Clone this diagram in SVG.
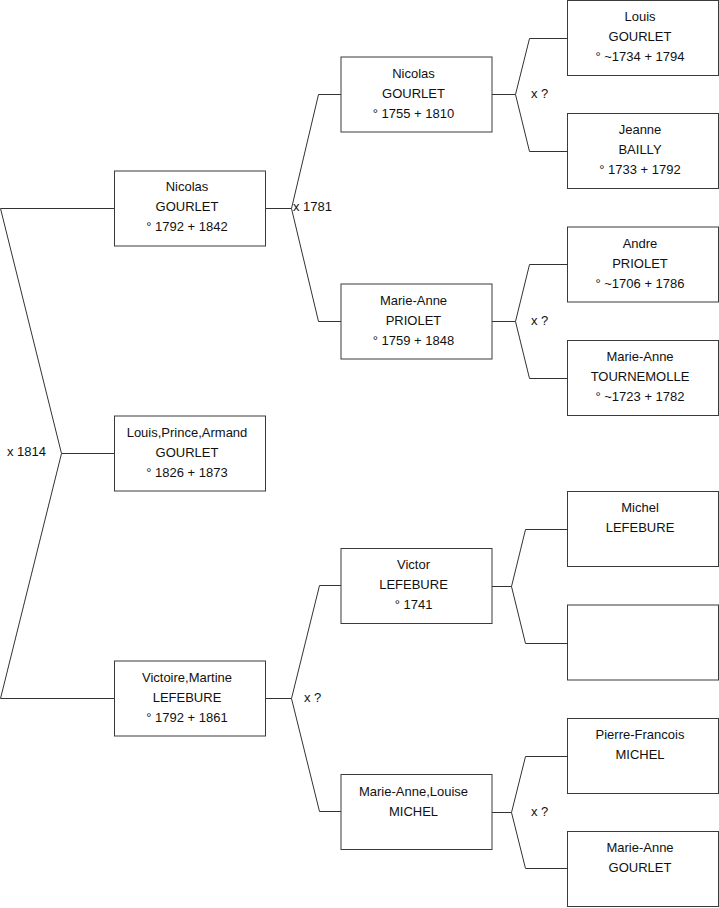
<svg xmlns="http://www.w3.org/2000/svg" width="719" height="908" viewBox="0 0 719 908">
<style>
.box{fill:#fff;stroke:#3a3a3a;stroke-width:1}
.t{font-family:"Liberation Sans",Arial,sans-serif;font-size:13px;fill:#111;text-anchor:middle}
.l{font-family:"Liberation Sans",Arial,sans-serif;font-size:13px;fill:#111}
.c{fill:none;stroke:#333;stroke-width:1}
</style>
<rect width="719" height="908" fill="#fff"/>
<g id="connectors">
<polyline class="c" points="114,208.5 0.5,208.5 61.5,453.5 0.5,698.5 114,698.5"/>
<line class="c" x1="61.5" y1="453.5" x2="114" y2="453.5"/>
<polyline class="c" points="341,94.5 318.5,94.5 291.5,208.5 318.5,321.5 341,321.5"/>
<line class="c" x1="265" y1="208.5" x2="291.5" y2="208.5"/>
<polyline class="c" points="341,585.5 319.5,585.5 291.5,698.5 319.5,811.5 341,811.5"/>
<line class="c" x1="265" y1="698.5" x2="291.5" y2="698.5"/>
<polyline class="c" points="567,38.5 529.5,38.5 515.5,94.5 529.5,151.5 567,151.5"/>
<line class="c" x1="492" y1="94.5" x2="515.5" y2="94.5"/>
<polyline class="c" points="567,264.5 529.5,264.5 515.5,321.5 529.5,378.5 567,378.5"/>
<line class="c" x1="492" y1="321.5" x2="515.5" y2="321.5"/>
<polyline class="c" points="567,529.5 525.5,529.5 511.5,586.5 525.5,643.5 567,643.5"/>
<line class="c" x1="492" y1="586.5" x2="511.5" y2="586.5"/>
<polyline class="c" points="567,756.5 525.5,756.5 511.5,812.5 525.5,868.5 567,868.5"/>
<line class="c" x1="492" y1="812.5" x2="511.5" y2="812.5"/>
<text class="l" x="7" y="456">x 1814</text>
<text class="l" x="293" y="211">x 1781</text>
<text class="l" x="304" y="702">x ?</text>
<text class="l" x="531" y="98">x ?</text>
<text class="l" x="531" y="325">x ?</text>
<text class="l" x="531" y="816">x ?</text>
</g>
<g id="n1"><rect class="box" x="114.5" y="171" width="151" height="75"/><text class="t" x="187" y="191">Nicolas</text><text class="t" x="187" y="211">GOURLET</text><text class="t" x="187" y="231">° 1792 + 1842</text></g>
<g id="n2"><rect class="box" x="114.5" y="416" width="151" height="75"/><text class="t" x="187" y="437">Louis,Prince,Armand</text><text class="t" x="187" y="457">GOURLET</text><text class="t" x="187" y="477">° 1826 + 1873</text></g>
<g id="n3"><rect class="box" x="114.5" y="661" width="151" height="75"/><text class="t" x="187" y="682">Victoire,Martine</text><text class="t" x="187" y="702">LEFEBURE</text><text class="t" x="187" y="722">° 1792 + 1861</text></g>
<g id="n4"><rect class="box" x="341" y="57" width="151" height="75"/><text class="t" x="413.5" y="78">Nicolas</text><text class="t" x="413.5" y="98">GOURLET</text><text class="t" x="413.5" y="118">° 1755 + 1810</text></g>
<g id="n5"><rect class="box" x="341" y="284" width="151" height="75"/><text class="t" x="413.5" y="305">Marie-Anne</text><text class="t" x="413.5" y="325">PRIOLET</text><text class="t" x="413.5" y="345">° 1759 + 1848</text></g>
<g id="n6"><rect class="box" x="341" y="548.5" width="151" height="75"/><text class="t" x="413.5" y="569">Victor</text><text class="t" x="413.5" y="589">LEFEBURE</text><text class="t" x="413.5" y="609">° 1741</text></g>
<g id="n7"><rect class="box" x="341" y="774.5" width="151" height="75"/><text class="t" x="413.5" y="796">Marie-Anne,Louise</text><text class="t" x="413.5" y="816">MICHEL</text></g>
<g id="n8"><rect class="box" x="567.5" y="0.5" width="151" height="75"/><text class="t" x="640" y="21">Louis</text><text class="t" x="640" y="41">GOURLET</text><text class="t" x="640" y="61">° ~1734 + 1794</text></g>
<g id="n9"><rect class="box" x="567.5" y="113.5" width="151" height="75"/><text class="t" x="640" y="134">Jeanne</text><text class="t" x="640" y="154">BAILLY</text><text class="t" x="640" y="174">° 1733 + 1792</text></g>
<g id="n10"><rect class="box" x="567.5" y="227" width="151" height="75"/><text class="t" x="640" y="248">Andre</text><text class="t" x="640" y="268">PRIOLET</text><text class="t" x="640" y="288">° ~1706 + 1786</text></g>
<g id="n11"><rect class="box" x="567.5" y="340.5" width="151" height="75"/><text class="t" x="640" y="361">Marie-Anne</text><text class="t" x="640" y="381">TOURNEMOLLE</text><text class="t" x="640" y="401">° ~1723 + 1782</text></g>
<g id="n12"><rect class="box" x="567.5" y="491.5" width="151" height="75"/><text class="t" x="640" y="512">Michel</text><text class="t" x="640" y="532">LEFEBURE</text></g>
<g id="n13"><rect class="box" x="567.5" y="605" width="151" height="75"/></g>
<g id="n14"><rect class="box" x="567.5" y="718.5" width="151" height="75"/><text class="t" x="640" y="739">Pierre-Francois</text><text class="t" x="640" y="759">MICHEL</text></g>
<g id="n15"><rect class="box" x="567.5" y="831.5" width="151" height="75"/><text class="t" x="640" y="852">Marie-Anne</text><text class="t" x="640" y="872">GOURLET</text></g>
</svg>
